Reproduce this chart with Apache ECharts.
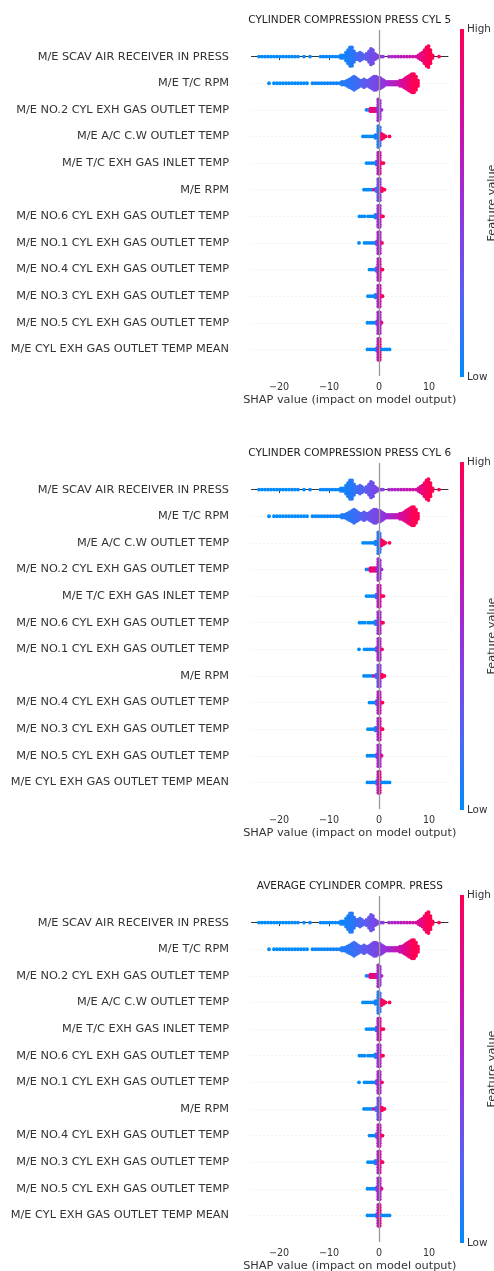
<!DOCTYPE html>
<html><head><meta charset="utf-8">
<script src="https://cdn.jsdelivr.net/npm/echarts@6/dist/echarts.min.js"></script>
<style>html,body{margin:0;padding:0;background:#fff;}#c{width:494px;height:1271px;}</style>
</head><body><div id="c"></div>
<script>
// ---------- DATA ----------
const panelTitles = ['CYLINDER COMPRESSION PRESS CYL 5', 'CYLINDER COMPRESSION PRESS CYL 6', 'AVERAGE CYLINDER COMPR. PRESS'];
const xTickValues = [-20, -10, 0, 10];
const xAxisTitle = 'SHAP value (impact on model output)';
const colorbarLabels = ['High', 'Low', 'Feature value'];

const F_SCAV = 'M/E SCAV AIR RECEIVER IN PRESS';
const F_TCRPM = 'M/E T/C RPM';
const F_NO2 = 'M/E NO.2 CYL EXH GAS OUTLET TEMP';
const F_AC = 'M/E A/C C.W OUTLET TEMP';
const F_TCEXH = 'M/E T/C EXH GAS INLET TEMP';
const F_RPM = 'M/E RPM';
const F_NO6 = 'M/E NO.6 CYL EXH GAS OUTLET TEMP';
const F_NO1 = 'M/E NO.1 CYL EXH GAS OUTLET TEMP';
const F_NO4 = 'M/E NO.4 CYL EXH GAS OUTLET TEMP';
const F_NO3 = 'M/E NO.3 CYL EXH GAS OUTLET TEMP';
const F_NO5 = 'M/E NO.5 CYL EXH GAS OUTLET TEMP';
const F_MEAN = 'M/E CYL EXH GAS OUTLET TEMP MEAN';

const order1 = [F_SCAV, F_TCRPM, F_NO2, F_AC, F_TCEXH, F_RPM, F_NO6, F_NO1, F_NO4, F_NO3, F_NO5, F_MEAN];
const order2 = [F_SCAV, F_TCRPM, F_AC, F_NO2, F_TCEXH, F_NO6, F_NO1, F_RPM, F_NO4, F_NO3, F_NO5, F_MEAN];
const order3 = [F_SCAV, F_TCRPM, F_NO2, F_AC, F_TCEXH, F_NO6, F_NO1, F_RPM, F_NO4, F_NO3, F_NO5, F_MEAN];

// bins: [shap value, dots stacked at that value, feature value (0 low .. 1 high)]
const binsScav = [
[-24.0,1,0],[-23.4,1,0],[-22.8,1,0],[-22.2,1,0],[-21.6,1,0],[-21.0,1,0],[-20.4,1,0],[-19.8,1,0],[-19.2,1,0],[-18.6,1,0],[-18.0,1,0],[-17.4,1,0],[-16.8,1,0.02],[-16.2,1,0.02],
[-15.0,1,0.02],[-13.8,1,0.02],
[-11.7,1,0.02],[-11.1,1,0.02],[-10.5,1,0.02],[-9.9,1,0.02],[-9.3,1,0.02],[-8.7,1,0.03],[-8.1,1,0.03],[-7.6,2,0.04],[-7.1,2,0.05],[-6.6,4,0.06],[-6.2,6,0.07],[-5.8,8,0.08],[-5.4,8,0.1],[-5.0,5,0.12],[-4.6,3,0.15],[-4.2,3,0.18],[-3.8,4,0.2],[-3.4,3,0.22],[-3.0,2,0.25],[-2.5,3,0.27],[-2.0,5,0.3],[-1.6,7,0.32],[-1.2,6,0.34],[-0.8,3,0.36],[-0.4,2,0.38],[0.0,1,0.4],[0.4,1,0.42],[0.8,1,0.44],
[2.0,1,0.55],[2.6,1,0.57],[3.2,1,0.59],[3.8,1,0.61],[4.4,1,0.63],[5.0,1,0.65],[5.6,1,0.67],[6.2,1,0.69],[6.8,1,0.71],[7.4,1,0.74],[7.9,2,0.78],[8.3,3,0.82],[8.7,4,0.86],[9.1,6,0.9],[9.5,8,0.95],[9.9,9,1],[10.3,6,1],[10.7,2,1],[12.0,1,1]
];
const binsTcRpm = [
[-22.0,1,0],[-21.0,1,0],[-20.4,1,0],[-19.8,1,0],[-19.2,1,0],[-18.6,1,0],[-18.0,1,0],[-17.4,1,0],[-16.8,1,0],[-16.2,1,0],[-15.6,1,0],[-15.0,1,0],[-14.4,1,0],
[-13.3,1,0.02],[-12.7,1,0.02],[-12.1,1,0.02],[-11.5,1,0.02],[-10.9,1,0.02],[-10.3,1,0.03],[-9.7,1,0.03],[-9.1,1,0.04],[-8.5,1,0.05],[-7.9,1,0.06],[-7.4,2,0.08],[-6.9,2,0.1],[-6.4,3,0.11],[-5.9,4,0.12],[-5.4,5,0.13],[-5.0,6,0.15],[-4.6,5,0.17],[-4.2,4,0.19],[-3.8,3,0.21],[-3.4,3,0.23],[-3.0,4,0.25],[-2.6,3,0.27],[-2.2,3,0.29],[-1.8,4,0.31],[-1.4,5,0.33],[-1.0,6,0.35],[-0.6,6,0.37],[-0.2,5,0.39],[0.2,5,0.41],[0.6,4,0.44],[1.0,3,0.47],[1.4,2,0.5],[1.8,2,0.53],[2.2,2,0.56],[2.6,2,0.59],[3.0,2,0.62],[3.4,2,0.65],[3.8,2,0.68],[4.2,3,0.71],[4.6,3,0.75],[5.0,4,0.79],[5.4,5,0.83],[5.8,6,0.87],[6.2,7,0.91],[6.6,8,0.95],[7.0,8,1],[7.4,6,1],[7.8,3,1]
];
const binsNo2 = [[-2.5,1,0.05],[-2.1,1,0.1],[-1.7,2,0.9],[-1.3,2,0.92],[-0.9,2,0.88],[-0.5,2,0.7],[-0.15,9,0.55],[0.15,8,0.5],[0.5,1,0.5]];
const binsAc = [[-3.2,1,0],[-2.7,1,0],[-2.2,1,0],[-1.7,1,0.02],[-1.2,1,0.02],[-0.7,2,0.05],[-0.15,9,0.1],[0.15,8,0.15],[0.5,3,0.9],[0.9,2,0.95],[1.3,1,1],[2.1,1,1]];
const binsTcExh = [[-2.5,1,0],[-2.0,1,0],[-1.5,1,0.02],[-1.0,1,0.05],[-0.5,2,0.1],[-0.15,9,0.6],[0.15,9,0.75],[0.5,1,0.95],[0.9,1,1]];
const binsRpm = [[-3.0,1,0],[-2.5,1,0],[-2.0,1,0],[-1.5,1,0.03],[-1.0,1,0.8],[-0.5,2,0.1],[-0.15,9,0.3],[0.15,9,0.45],[0.6,2,0.95],[1.1,1,1]];
const binsNo6 = [[-3.9,1,0],[-3.4,1,0],[-2.9,1,0],[-2.2,1,0],[-1.7,1,0],[-1.2,1,0.02],[-0.7,2,0.1],[-0.15,9,0.5],[0.15,9,0.6],[0.5,1,0.9],[0.8,1,0.95]];
const binsNo1 = [[-4.0,1,0],[-2.9,1,0],[-2.4,1,0],[-1.9,1,0],[-1.4,1,0.02],[-0.9,1,0.05],[-0.45,2,0.3],[-0.15,9,0.55],[0.15,9,0.6],[0.6,1,0.9]];
const binsNo4 = [[-1.9,1,0],[-1.4,1,0],[-0.9,1,0.05],[-0.5,2,0.2],[-0.15,9,0.6],[0.15,9,0.7],[0.5,1,0.9],[0.7,1,0.95]];
const binsNo3 = [[-2.2,1,0],[-1.7,1,0],[-1.2,1,0.02],[-0.7,2,0.1],[-0.15,9,0.55],[0.15,9,0.75],[0.5,1,0.9],[0.7,1,0.95]];
const binsNo5 = [[-2.3,1,0],[-1.8,1,0],[-1.3,1,0.02],[-0.8,1,0.05],[-0.4,2,0.3],[-0.15,9,0.55],[0.15,9,0.6],[0.5,1,0.8]];
const binsMean = [[-2.3,1,0],[-1.8,1,0],[-1.3,1,0],[-0.8,1,0.05],[-0.4,2,0.1],[-0.15,9,0.6],[0.15,9,0.85],[0.6,1,0.05],[1.1,1,0],[1.6,1,0],[2.1,1,0]];

const featureBins = {};
featureBins[F_SCAV] = binsScav; featureBins[F_TCRPM] = binsTcRpm; featureBins[F_NO2] = binsNo2;
featureBins[F_AC] = binsAc; featureBins[F_TCEXH] = binsTcExh; featureBins[F_RPM] = binsRpm;
featureBins[F_NO6] = binsNo6; featureBins[F_NO1] = binsNo1; featureBins[F_NO4] = binsNo4;
featureBins[F_NO3] = binsNo3; featureBins[F_NO5] = binsNo5; featureBins[F_MEAN] = binsMean;

// ---------- LAYOUT / STYLE ----------
const orders = [order1, order2, order3];
const PANEL_DY = 433;
const GRID_TOP = 30, GRID_H = 346, GRID_LEFT = 251.5, GRID_RIGHT = 46;
const X_MIN = -25.5, X_MAX = 13.8;
const DOT_STEP = 0.098;   // vertical spacing of stacked dots (row units)
const DOT_SIZE = 3.8;
const FONT = 'DejaVu Sans';
const CMAP = ['#008bfb', '#5a5ef2', '#9a2fd9', '#d20ca2', '#ff0052'];

function swarm(bins, row) {
  const pts = [];
  bins.forEach(function (b) {
    const n = b[1];
    for (let k = 0; k < n; k++) pts.push([b[0], row + (k - (n - 1) / 2) * DOT_STEP, b[2]]);
  });
  return pts;
}
const fmtMinus = v => (v < 0 ? '\u2212' + Math.abs(v) : String(v));

const grids = [], xAxes = [], yAxes = [], series = [], graphics = [], scatterIdx = [];
orders.forEach(function (order, p) {
  const top = GRID_TOP + p * PANEL_DY;
  grids.push({ left: GRID_LEFT, right: GRID_RIGHT, top: top, height: GRID_H, containLabel: false, outerBoundsMode: 'none' });
  xAxes.push({
    type: 'value', gridIndex: p, min: X_MIN, max: X_MAX,
    axisLine: { show: true, lineStyle: { color: '#333', width: 1 } },
    axisTick: { show: true, length: 3.5, lineStyle: { color: '#333' }, customValues: xTickValues },
    axisLabel: { show: true, customValues: xTickValues, formatter: fmtMinus, color: '#333', fontSize: 9.6, fontFamily: FONT, margin: 6 },
    splitLine: { show: false },
    name: xAxisTitle, nameLocation: 'middle', nameGap: 19,
    nameTextStyle: { color: '#333', fontSize: 11.3, fontFamily: FONT }
  });
  yAxes.push({
    type: 'value', gridIndex: p, min: -1, max: 12, interval: 1, inverse: true,
    axisLine: { show: false }, axisTick: { show: false },
    axisLabel: { color: '#333', fontSize: 11.3, fontFamily: FONT, margin: 22.5,
      formatter: v => (v >= 0 && v < order.length ? order[v] : '') },
    splitLine: { show: true, showMinLine: false, showMaxLine: false, lineStyle: { color: '#dadada', width: 0.8, type: [1, 3] } }
  });
  series.push({
    type: 'scatter', xAxisIndex: p, yAxisIndex: p, data: [], silent: true, z: 1,
    markLine: { silent: true, symbol: 'none', label: { show: false },
      lineStyle: { color: '#999', width: 1.3, type: 'solid' }, data: [{ xAxis: 0 }], animation: false }
  });
  let pts = [];
  order.forEach(function (f, i) { pts = pts.concat(swarm(featureBins[f], i)); });
  scatterIdx.push(series.length);
  series.push({
    type: 'scatter', xAxisIndex: p, yAxisIndex: p, data: pts, symbol: 'circle', symbolSize: DOT_SIZE,
    itemStyle: { opacity: 1 }, silent: true, z: 3, large: false
  });
  // title
  graphics.push({ type: 'text', x: GRID_LEFT + (494 - GRID_RIGHT - GRID_LEFT) / 2, y: 20 + p * PANEL_DY,
    style: { text: panelTitles[p], textAlign: 'center', textVerticalAlign: 'middle', font: '10.5px "DejaVu Sans"', fill: '#222' } });
  // colorbar
  graphics.push({ type: 'rect', shape: { x: 460, y: 29 + p * PANEL_DY, width: 4, height: 348 },
    style: { fill: new echarts.graphic.LinearGradient(0, 1, 0, 0, CMAP.map((c, i) => ({ offset: i / (CMAP.length - 1), color: c }))) } });
  graphics.push({ type: 'text', x: 467, y: 29 + p * PANEL_DY,
    style: { text: colorbarLabels[0], textVerticalAlign: 'middle', font: '10.4px "DejaVu Sans"', fill: '#333' } });
  graphics.push({ type: 'text', x: 467, y: 377 + p * PANEL_DY,
    style: { text: colorbarLabels[1], textVerticalAlign: 'middle', font: '10.4px "DejaVu Sans"', fill: '#333' } });
  graphics.push({ type: 'text', x: 492.5, y: 203 + p * PANEL_DY, rotation: Math.PI / 2,
    style: { text: colorbarLabels[2], textAlign: 'center', textVerticalAlign: 'middle', font: '11.3px "DejaVu Sans"', fill: '#333' } });
});

const chart = echarts.init(document.getElementById('c'), null, { renderer: 'canvas' });
chart.setOption({
  animation: false,
  backgroundColor: '#fff',
  grid: grids, xAxis: xAxes, yAxis: yAxes, series: series,
  visualMap: { type: 'continuous', show: false, min: 0, max: 1, dimension: 2, seriesIndex: scatterIdx, inRange: { color: CMAP } },
  graphic: graphics
});
</script></body></html>
